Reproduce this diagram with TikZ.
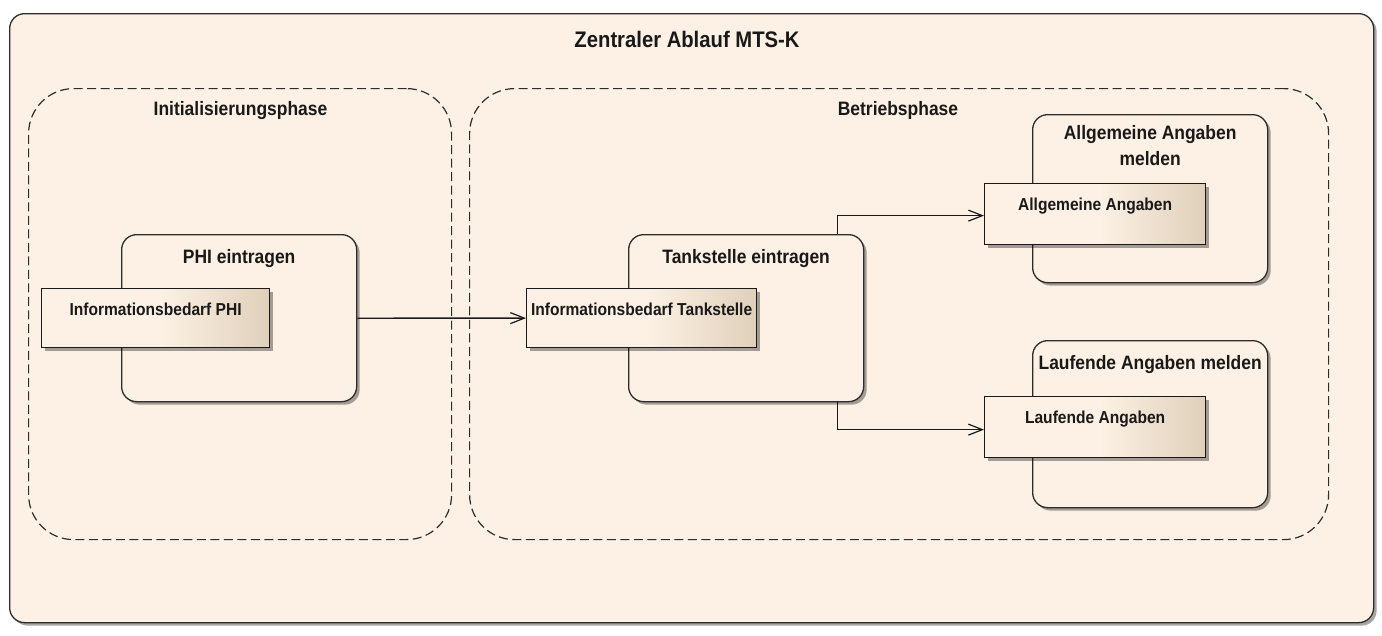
\documentclass[tikz,border=0pt]{standalone}
\usepackage{fontspec}
\setmainfont{Liberation Sans}[FakeStretch=0.9]
\usetikzlibrary{arrows.meta,shadows,calc}
\definecolor{bgc}{RGB}{252,241,228}
\definecolor{pagec}{RGB}{255,255,255}
\definecolor{tanc}{RGB}{224,208,186}
\definecolor{linec}{RGB}{45,45,45}
\pgfdeclarehorizontalshading{boxshade}{100bp}{color(0bp)=(bgc); color(25bp)=(bgc); color(51bp)=(bgc); color(75bp)=(tanc); color(100bp)=(tanc)}
\begin{document}
\begin{tikzpicture}[x=1pt,y=-1pt,
  shadowed/.style={drop shadow={shadow xshift=3pt, shadow yshift=-3pt, fill=black, opacity=0.35}},
  frame/.style={draw=linec, line width=1.3pt, fill=bgc, rounded corners=15pt, shadowed, anchor=north west, inner sep=0pt},
  phase/.style={draw=linec, line width=1.2pt, dash pattern=on 9pt off 4.5pt, rounded corners=45pt, anchor=north west, inner sep=0pt},
  activity/.style={draw=linec, line width=1.3pt, fill=bgc, rounded corners=15pt, shadowed, anchor=north west, inner sep=0pt},
  infobox/.style={draw=black!90, line width=1.25pt, shading=boxshade, shadowed, anchor=north west, inner sep=0pt},
  ttl/.style={font=\fontsize{22.5}{27}\selectfont\bfseries, text=black!90, inner sep=0pt},
  hdr/.style={font=\fontsize{19.4}{26}\selectfont\bfseries, text=black!90, inner sep=0pt},
  inr/.style={font=\fontsize{17.3}{21}\selectfont\bfseries, text=black!90, inner sep=0pt},
  arr/.style={draw=black!90, line width=1.3pt, -{Straight Barb[length=14pt,width=11pt,line width=1.2pt]}}
]
\useasboundingbox (0,0) rectangle (1382,635);
\fill[pagec] (0,0) rectangle (1382,635);

% outer frame
\node[frame, minimum width=1364pt, minimum height=609pt] (outer) at (9,13) {};
\node[ttl, anchor=base] (title) at (687,47) {Zentraler Ablauf MTS-K};

% phases
\node[phase, minimum width=423pt, minimum height=451pt] (init) at (28,88) {};
\node[hdr, anchor=base] (initT) at (240.5,115) {Initialisierungsphase};
\node[phase, minimum width=859pt, minimum height=451pt] (betr) at (469,88) {};
\node[hdr, anchor=base] (betrT) at (898,115) {Betriebsphase};

% activities
\node[activity, minimum width=235pt, minimum height=167pt] (phi) at (121,234) {};
\node[hdr, anchor=base] (phiT) at ($(phi.north)+(0,29.5)$) {PHI eintragen};
\node[activity, minimum width=235pt, minimum height=167pt] (tank) at (628,234) {};
\node[hdr, anchor=base] (tankT) at ($(tank.north)+(0,29.5)$) {Tankstelle eintragen};
\node[activity, minimum width=235pt, minimum height=168pt] (aam) at (1032,114) {};
\node[hdr, align=center, anchor=north] (aamT) at ($(aam.north)+(0,11)$) {Allgemeine Angaben\\melden};
\node[activity, minimum width=235pt, minimum height=167pt] (lam) at (1032,340) {};
\node[hdr, anchor=base] (lamT) at ($(lam.north)+(0,29)$) {Laufende Angaben melden};

% info boxes
\node[infobox, minimum width=228pt, minimum height=59pt] (iphi) at (41,288) {};
\node[inr, anchor=base] (iphiT) at ($(iphi.north)+(0,27.5)$) {Informationsbedarf PHI};
\node[infobox, minimum width=230pt, minimum height=59pt] (itank) at (526,288) {};
\node[inr, anchor=base] (itankT) at ($(itank.north)+(0,27.5)$) {Informationsbedarf Tankstelle};
\node[infobox, minimum width=221pt, minimum height=61pt] (aa) at (984,183) {};
\node[inr, anchor=base] (aaT) at ($(aa.north)+(0,27.5)$) {Allgemeine Angaben};
\node[infobox, minimum width=221pt, minimum height=61pt] (la) at (984,396) {};
\node[inr, anchor=base] (laT) at ($(la.north)+(0,27.5)$) {Laufende Angaben};

% connectors
\draw[arr] (phi.east) -- (itank.west);
\draw[arr] ([xshift=91pt]tank.north) |- ([yshift=-1.5pt]aa.west);
\draw[arr] ([xshift=91pt]tank.south) |- ([yshift=-2.5pt]la.west);
\end{tikzpicture}
\end{document}
